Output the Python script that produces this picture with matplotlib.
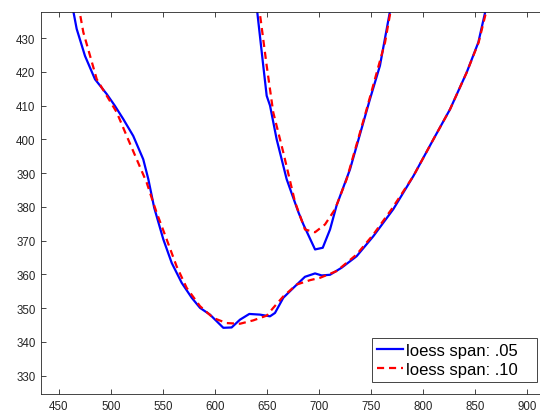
import numpy as np
import matplotlib
matplotlib.use("Agg")
import matplotlib.pyplot as plt

plt.rcParams['font.family'] = ['Liberation Sans', 'DejaVu Sans']

# loess span .05 (blue) - main branch and V branch
blue_x = [462.5, 467, 475, 484.6, 495.9, 503.8, 511.8, 521.4, 531, 535.9, 541.5, 550.3, 558.4,
          568, 577.6, 585.6, 595.2, 608, 616, 624, 633, 643.3, 652.9, 657.7, 665.7, 675.3,
          686.5, 696.2, 702.6, 710.6, 721.8, 736.2, 752.2, 771.4, 790.7, 810, 826, 842, 853.2, 861.5]
blue_y = [440, 432.7, 424.7, 417.8, 413.4, 409.9, 406, 401, 394.1, 388.2, 379.8, 370.4, 363.4,
          357.5, 353.1, 350.1, 348.1, 344.2, 344.3, 346.6, 348.3, 348.1, 347.6, 348.6, 353.1, 356,
          359.3, 360.3, 359.7, 359.9, 362, 365.4, 371.3, 379.3, 389.1, 400, 408.9, 419.8, 428.7, 440]
blue_vx = [639.8, 646.4, 649.7, 652.9, 659.3, 668.9, 680.1, 685, 696.2, 703.6, 710.6, 717,
           729.8, 749, 758.6, 769.5]
blue_vy = [440, 421.8, 412.9, 410, 400, 388.2, 378.5, 374.8, 367.4, 367.9, 373.3, 380.5,
           391.1, 411.9, 421.8, 440]

# loess span .10 (red dashed)
red_x = [468.5, 473.4, 486.3, 505.5, 515.1, 524.7, 534.3, 540.7, 543.9, 553.5, 563.1, 572.8,
         585.6, 598.4, 611.2, 624, 636.8, 649.7, 656, 665.7, 678.5, 691.3, 701, 717, 736.2,
         752.2, 769.8, 790.7, 810, 826, 842, 853.5, 862.5]
red_y = [440, 431.7, 417.8, 408, 401, 394.1, 387.2, 381.2, 378.3, 370.4, 362.4, 356,
         350.6, 347.1, 345.6, 345.4, 346.4, 347.8, 350.1, 353.5, 357, 358.3, 359, 361, 365.9,
         371.8, 379.3, 389.1, 400, 408.9, 419.8, 428.7, 440]
red_vx = [642, 649.7, 656, 665.7, 676.9, 686.5, 696.2, 705.8, 715.4, 726.6, 745.8, 763.5, 770]
red_vy = [440, 421.8, 408, 396.1, 381.5, 373.3, 372.5, 374.8, 379.3, 388.2, 408.9, 428.7, 440]

xticks = [450, 500, 550, 600, 650, 700, 750, 800, 850, 900]
yticks = [330, 340, 350, 360, 370, 380, 390, 400, 410, 420, 430]

fig = plt.figure(figsize=(5.4, 4.14), dpi=100)
ax = fig.add_axes([41 / 540, 19 / 414, 499 / 540, 382 / 414])

bx = blue_x + [np.nan] + blue_vx
by = blue_y + [np.nan] + blue_vy
rx = red_x + [np.nan] + red_vx
ry = red_y + [np.nan] + red_vy

ax.plot(bx, by, color='#0000ff', lw=1.6, label='loess span: .05   ')
ax.plot(rx, ry, color='#ff0000', lw=1.6, dashes=(3.2, 2.2), label='loess span: .10   ')

ax.set_xlim(432.7, 912.5)
ax.set_ylim(324.6, 437.7)
ax.set_xticks(xticks)
ax.set_yticks(yticks)
ax.tick_params(direction='in', length=3.5, width=0.6, colors='#262626', labelsize=8.3,
               top=True, right=False, pad=4)
for s in ['left', 'bottom', 'top']:
    ax.spines[s].set_color('#262626')
    ax.spines[s].set_linewidth(0.6)
ax.spines['right'].set_visible(False)

leg = ax.legend(loc='lower right', bbox_to_anchor=(536.7 / 540, (414 - 383.3) / 414),
                bbox_transform=fig.transFigure, borderaxespad=0, fontsize=12,
                handlelength=1.55, handletextpad=0.2, labelspacing=0.26,
                borderpad=0.3, fancybox=False, framealpha=1)
leg.get_frame().set_edgecolor('#262626')
leg.get_frame().set_linewidth(0.6)

fig.savefig('out.png', dpi=100)
